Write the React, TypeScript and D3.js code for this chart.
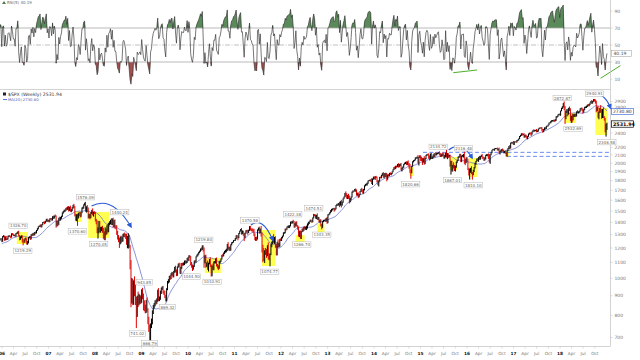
import React from 'react';
import * as d3 from 'd3';

// ---------- DATA ----------
// weekly closes, first week ending 2005-08-19 (warm-up for MA/RSI), last week ending 2019-01-04
const closes = [
  // 2005 (warm-up)
  1219,1212,1218,1241,1237,1215,1229,1196,1187,1179,1198,1220,1235,1248,1268,1265,1259,1267,1268,1248,
  // 2006
  1285,1288,1261,1283,1264,1267,1288,1290,1287,1282,1307,1302,1295,1295,1289,1311,1311,1325,1291,1267,1280,1288,1253,1252,1245,1270,1265,1236,1240,1278,1280,1267,1302,1296,1311,1299,1319,1314,1336,1349,1365,1368,1377,1364,1381,1401,1400,1396,1409,1427,1410,1418,
  // 2007
  1409,1431,1430,1423,1449,1438,1455,1451,1387,1402,1386,1437,1421,1443,1453,1485,1495,1505,1505,1523,1515,1536,1507,1533,1502,1503,1530,1552,1534,1459,1434,1453,1445,1479,1473,1453,1484,1525,1527,1557,1561,1500,1535,1509,1453,1458,1440,1481,1504,1467,1484,1478,
  // 2008
  1411,1401,1325,1331,1396,1331,1349,1353,1331,1294,1288,1330,1316,1370,1332,1390,1398,1414,1389,1426,1375,1400,1361,1360,1318,1278,1262,1239,1261,1257,1260,1296,1298,1292,1283,1242,1252,1255,1213,1099,899,940,877,968,930,873,800,896,876,880,887,873,
  // 2009
  931,890,850,832,826,869,827,770,735,683,756,769,816,843,857,870,866,877,929,882,887,919,940,946,921,918,896,879,940,979,987,1010,1005,1026,1029,1016,1042,1068,1044,1025,1071,1087,1080,1036,1069,1093,1091,1091,1106,1102,1102,1127,1115,
  // 2010
  1145,1136,1092,1074,1066,1075,1109,1105,1139,1150,1159,1167,1178,1194,1192,1217,1187,1111,1136,1087,1089,1065,1092,1117,1076,1022,1078,1065,1102,1102,1122,1079,1071,1065,1105,1110,1125,1149,1147,1166,1176,1183,1183,1225,1199,1199,1190,1224,1240,1243,1257,1258,
  // 2011
  1271,1293,1283,1276,1311,1329,1343,1320,1321,1304,1279,1314,1332,1328,1320,1337,1364,1340,1338,1333,1331,1300,1271,1272,1268,1340,1344,1316,1345,1292,1199,1179,1124,1177,1174,1154,1216,1136,1131,1155,1224,1238,1285,1253,1263,1216,1159,1244,1219,1219,1265,1258,
  // 2012
  1278,1289,1315,1316,1345,1343,1362,1366,1370,1371,1404,1397,1408,1398,1370,1379,1403,1369,1353,1295,1318,1278,1325,1343,1335,1362,1355,1357,1362,1386,1391,1406,1418,1411,1406,1438,1465,1460,1441,1461,1428,1433,1411,1414,1380,1359,1409,1416,1418,1413,1430,1402,
  // 2013
  1466,1472,1486,1503,1513,1518,1520,1516,1518,1551,1561,1556,1569,1553,1588,1555,1582,1614,1633,1667,1650,1631,1643,1626,1593,1606,1632,1680,1692,1691,1709,1691,1655,1664,1633,1655,1688,1710,1691,1690,1703,1745,1759,1762,1771,1798,1804,1806,1805,1775,1818,1841,
  // 2014
  1831,1842,1838,1790,1783,1797,1838,1836,1859,1878,1841,1866,1857,1865,1815,1864,1863,1881,1878,1878,1900,1924,1949,1936,1963,1961,1985,1967,1978,1978,1925,1931,1955,1988,2003,2008,1985,2010,1983,1968,1906,1887,1964,2018,2032,2039,2064,2068,2075,2002,2071,2089,
  // 2015
  2058,2045,2019,2051,1995,2055,2097,2110,2105,2071,2053,2108,2061,2067,2102,2081,2117,2108,2116,2123,2126,2107,2092,2094,2110,2101,2076,2077,2127,2080,2104,2078,2092,1971,1989,1921,1961,1958,1931,1951,2014,2033,2075,2079,2099,2023,2089,2090,2092,2012,2006,2061,2044,
  // 2016
  1922,1880,1907,1940,1880,1865,1918,1948,2000,2022,2050,2036,2073,2048,2081,2092,2065,2057,2047,2052,2099,2099,2096,2071,2037,2103,2130,2162,2175,2173,2183,2184,2184,2169,2180,2128,2139,2164,2168,2153,2133,2141,2126,2085,2164,2182,2213,2192,2260,2258,2263,2239,
  // 2017
  2277,2275,2271,2295,2297,2316,2351,2367,2383,2373,2378,2344,2363,2355,2329,2349,2384,2399,2390,2382,2416,2439,2432,2433,2438,2423,2425,2459,2473,2472,2476,2441,2426,2444,2477,2461,2500,2502,2519,2549,2553,2575,2581,2588,2582,2579,2602,2642,2652,2675,2684,2674,
  // 2018
  2743,2786,2810,2873,2762,2620,2732,2747,2691,2786,2752,2588,2641,2604,2656,2670,2670,2663,2728,2712,2721,2735,2779,2780,2754,2718,2760,2801,2802,2819,2840,2833,2850,2875,2902,2872,2904,2930,2914,2886,2767,2768,2658,2723,2781,2736,2633,2760,2633,2600,2417,2486,
  // 2019
  2531.94,
];

// weekly high above max(open, close), in tenths of a percent
const wickUp = [
  6,5,4,3,4,5,3,4,6,9,5,3,4,3,2,4,3,3,2,4,
  3,6,4,3,6,4,3,4,5,4,3,4,5,4,6,2,5,1,5,4,6,5,5,12,8,3,8,6,9,2,6,9,2,4,2,4,2,5,1,3,2,3,2,6,2,2,4,6,3,2,4,3,
  4,3,4,5,3,6,3,9,6,8,9,2,8,3,3,2,3,4,5,3,8,3,6,3,10,9,3,3,9,7,11,12,15,3,8,12,2,4,8,3,10,15,5,12,15,12,9,5,4,13,6,8,
  8,14,12,20,12,12,10,8,14,18,25,22,12,4,14,5,8,6,15,5,10,14,18,12,12,10,15,12,20,25,20,8,10,15,12,20,30,45,35,8,15,65,60,20,45,35,25,5,30,35,20,15,
  5,14,25,30,25,10,25,10,30,30,8,20,10,10,5,6,10,10,5,15,10,10,6,6,10,10,10,10,2,5,8,4,10,5,10,8,4,3,10,10,3,5,10,15,2,3,5,8,6,8,8,3,8,
  3,4,6,10,10,6,3,6,2,3,2,5,3,2,8,2,2,14,12,15,10,22,6,5,15,10,2,14,5,7,5,10,10,10,3,3,2,2,8,2,3,3,10,3,15,8,10,3,2,2,1,2,
  3,2,4,8,2,2,2,8,10,8,6,2,3,5,8,2,3,5,8,10,10,12,8,8,10,2,10,15,3,18,20,20,18,6,20,15,3,20,22,6,3,8,3,15,15,20,12,2,15,15,2,6,
  4,3,3,4,3,3,2,4,4,4,2,4,3,10,10,10,3,4,6,10,10,12,2,4,10,2,6,5,8,4,10,2,3,5,6,3,6,4,6,3,12,10,8,6,10,5,2,4,3,10,5,12,
  3,2,2,3,4,3,3,6,4,2,3,5,3,10,2,10,3,3,2,3,12,12,5,12,12,10,3,3,3,3,2,5,10,6,8,3,2,2,8,10,6,3,3,5,5,2,2,3,5,12,3,2,
  3,4,6,3,10,3,2,3,3,3,10,10,10,12,10,2,5,3,6,4,2,2,2,6,3,4,2,8,6,8,12,8,3,2,2,4,7,5,12,10,12,10,2,3,2,2,3,3,3,12,3,4,
  3,10,10,5,18,4,2,2,3,8,12,6,10,8,3,10,3,10,5,3,4,10,10,8,6,12,12,10,2,20,10,10,5,6,20,20,10,25,10,10,3,3,3,5,8,8,3,6,10,25,20,4,8,
  5,12,15,2,12,8,2,3,3,3,3,6,2,8,3,5,10,8,10,8,2,6,7,12,20,3,3,2,2,3,2,3,2,6,2,8,8,3,5,8,8,6,10,5,3,5,2,8,2,6,2,10,
  2,3,3,2,3,2,2,2,5,6,4,8,5,6,5,3,3,2,3,8,2,2,6,4,3,8,5,2,2,3,2,4,8,5,2,3,2,2,2,2,2,2,4,2,4,6,2,4,2,2,3,5,
  1,2,3,0,10,22,3,8,10,2,10,12,8,20,10,8,8,10,2,8,4,3,2,4,6,10,3,3,4,3,2,6,3,2,3,8,2,4,5,8,10,15,20,2,4,20,12,4,15,8,10,20,
  8,
];

// weekly low below min(open, close), in tenths of a percent
const wickDn = [
  5,8,6,2,5,9,3,14,6,11,4,3,3,3,2,6,5,4,3,4,
  2,4,6,4,5,4,3,5,4,8,3,4,5,4,5,3,4,3,3,8,5,6,10,26,6,5,7,9,10,5,5,6,3,4,5,4,4,5,3,4,5,3,4,5,4,3,5,8,3,2,5,3,
  6,5,5,6,5,6,4,4,22,15,12,5,6,3,9,4,6,5,9,3,5,4,8,5,6,9,3,6,5,5,14,16,51,8,12,8,4,3,6,4,5,4,10,12,14,12,10,3,6,5,12,4,
  2,12,10,41,15,8,12,15,12,20,22,24,15,10,10,10,10,10,8,8,12,10,10,12,15,12,15,31,10,18,10,10,10,10,12,15,35,45,10,40,66,45,30,28,35,25,74,10,40,30,25,20,
  12,10,30,15,20,18,12,15,15,24,20,20,15,12,12,15,15,10,10,12,12,10,10,8,10,15,10,11,10,10,10,12,15,10,10,12,10,8,8,12,10,5,10,8,10,10,12,10,8,10,8,5,3,
  6,4,10,8,20,12,4,8,5,3,7,6,3,4,10,5,10,41,15,20,15,12,22,4,6,11,10,12,15,8,8,5,10,14,6,10,6,5,10,5,8,8,12,4,8,15,10,8,4,5,3,3,
  5,5,8,15,3,4,3,15,12,10,22,5,5,8,15,5,5,5,8,6,12,8,10,15,12,4,6,6,4,5,26,66,12,25,20,20,10,15,15,50,5,15,8,12,18,12,10,10,12,12,8,5,
  5,5,3,6,4,8,3,4,10,12,3,6,5,5,10,10,6,4,10,8,10,8,9,4,10,4,10,12,15,10,8,3,3,5,8,3,3,5,6,8,5,6,6,12,10,12,3,5,5,6,5,10,
  6,4,3,4,8,6,3,15,8,2,4,6,4,12,3,15,4,4,2,3,10,10,12,8,15,8,3,3,4,5,3,5,6,6,8,3,3,3,6,15,15,3,3,6,8,3,3,4,10,6,12,4,
  8,12,5,5,18,25,3,5,6,3,4,8,10,10,12,3,10,8,8,10,3,3,3,6,3,8,4,10,8,6,4,12,3,5,3,6,4,3,7,17,10,35,3,3,4,4,3,5,6,3,15,3,
  15,10,20,6,7,3,3,4,4,8,10,4,5,5,4,3,4,5,6,3,3,5,8,8,4,10,10,10,3,5,15,8,4,6,53,10,10,10,12,15,3,5,3,5,4,5,5,5,10,10,15,3,10,
  2,12,36,10,4,29,3,12,5,10,3,5,10,4,3,3,5,5,10,8,3,5,6,10,15,22,3,3,2,5,8,3,3,5,5,3,10,3,10,3,5,4,5,1,2,4,3,8,3,4,3,3,
  3,4,4,3,5,2,2,3,4,5,3,5,6,6,5,8,2,3,6,12,3,3,5,6,3,6,5,3,3,4,4,5,10,6,3,5,2,3,3,2,3,4,6,4,5,5,3,8,5,4,3,3,
  5,3,5,5,3,33,5,10,15,4,5,3,15,19,6,6,10,8,5,4,5,4,3,5,6,8,3,3,5,5,5,5,6,5,3,5,3,3,5,8,18,10,11,20,5,10,8,3,3,6,4,29,
  17,
];

const firstWeek = [2005, 7, 19];
const legendClose = '2531.94';
const legendMA = '2730.80';
const legendRSI = '40.19';

const priceTicks = [700, 800, 900, 1000, 1100, 1200, 1300, 1400, 1500, 1600, 1700, 1800, 1900, 2000, 2100, 2200, 2400, 2800, 2900];
const rsiTicks = [10, 30, 50, 70, 90];
const yearLabels = ['06', '07', '08', '09', '10', '11', '12', '13', '14', '15', '16', '17', '18'];
const monthLabels = ['Apr', 'Jul', 'Oct'];

// annotation labels: date, value, vertical offset (px), horizontal offset (px)
const annotations = [
  { d: '2006-05-08', v: 1326.70, dy: -5.5, dx: 0 },
  { d: '2006-06-13', v: 1219.29, dy: 5.5, dx: 0 },
  { d: '2007-08-16', v: 1370.60, dy: 5.5, dx: 0 },
  { d: '2007-10-11', v: 1576.09, dy: -5.5, dx: 1 },
  { d: '2008-01-22', v: 1270.05, dy: 5.5, dx: 1 },
  { d: '2008-05-19', v: 1440.24, dy: -5.5, dx: 7 },
  { d: '2008-11-21', v: 741.02, dy: 5.5, dx: 1 },
  { d: '2009-01-06', v: 943.85, dy: -5.5, dx: 2 },
  { d: '2009-03-06', v: 666.79, dy: -2.5, dx: 0 },
  { d: '2009-07-08', v: 869.32, dy: 5.5, dx: 2 },
  { d: '2010-02-05', v: 1044.50, dy: 5.5, dx: -1 },
  { d: '2010-04-26', v: 1219.80, dy: -5.5, dx: 1 },
  { d: '2010-07-01', v: 1010.91, dy: 5.5, dx: 1 },
  { d: '2011-05-02', v: 1370.58, dy: -5.5, dx: 0 },
  { d: '2011-10-04', v: 1074.77, dy: 5.5, dx: 0 },
  { d: '2012-04-02', v: 1422.38, dy: -5.5, dx: 0 },
  { d: '2012-06-04', v: 1266.74, dy: 5.5, dx: 1 },
  { d: '2012-09-14', v: 1474.51, dy: -5.5, dx: 0 },
  { d: '2012-11-16', v: 1343.35, dy: 5.5, dx: 0 },
  { d: '2014-10-15', v: 1820.66, dy: 5.5, dx: 0 },
  { d: '2015-05-20', v: 2134.72, dy: -5.5, dx: 0 },
  { d: '2015-08-24', v: 1867.01, dy: 5.5, dx: 2 },
  { d: '2015-11-03', v: 2116.48, dy: -5.5, dx: 4 },
  { d: '2016-02-11', v: 1810.10, dy: 5.5, dx: 1 },
  { d: '2018-01-26', v: 2872.87, dy: -5, dx: -1 },
  { d: '2018-02-09', v: 2532.69, dy: 5, dx: 8 },
  { d: '2018-09-21', v: 2940.91, dy: -5.5, dx: 1 },
  { d: '2018-12-26', v: 2346.58, dy: 5.5, dx: 1 },
];

// yellow highlight boxes: from, to, low price, high price
const highlights = [
  { a: '2006-04-27', b: '2006-07-24', lo: 1229, hi: 1321 },
  { a: '2007-07-28', b: '2007-09-20', lo: 1403, hi: 1499 },
  { a: '2007-11-09', b: '2008-04-22', lo: 1275, hi: 1491 },
  { a: '2010-05-13', b: '2010-09-16', lo: 1032, hi: 1130 },
  { a: '2011-08-05', b: '2011-11-15', lo: 1077, hi: 1337 },
  { a: '2012-04-25', b: '2012-07-05', lo: 1240, hi: 1297 },
  { a: '2012-10-12', b: '2012-12-07', lo: 1311, hi: 1392 },
  { a: '2014-10-05', b: '2014-11-10', lo: 1851, hi: 1955 },
  { a: '2015-08-15', b: '2015-10-20', lo: 1919, hi: 2076 },
  { a: '2016-01-15', b: '2016-03-20', lo: 1840, hi: 2063 },
  { a: '2016-10-28', b: '2016-11-25', lo: 2076, hi: 2152 },
  { a: '2018-02-05', b: '2018-05-05', lo: 2548, hi: 2706 },
  { a: '2018-10-05', b: '2019-01-10', lo: 2370, hi: 2789 },
];

const levels = [
  { a: '2015-01-20', v: 2134.72 },
  { a: '2016-11-10', v: 2083.79 },
];

// blue curved arrows: start, control, end (date, price)
const arrows = [
  { s: ['2007-12-05', 1545], c: ['2008-05-15', 1650], e: ['2008-10-10', 1364] },
  { s: ['2011-05-10', 1378], c: ['2011-08-10', 1455], e: ['2011-10-28', 1259] },
  { s: ['2015-08-10', 2165], c: ['2015-11-20', 2300], e: ['2016-02-10', 2064] },
  { s: ['2018-09-15', 3021], c: ['2018-12-15', 3071], e: ['2019-02-01', 2789] },
];

// green RSI trend lines: (date, rsi) pairs
const rsiLines = [
  { a: ['2015-09-15', 17.4], b: ['2016-03-20', 20.6] },
  { a: ['2018-11-15', 10.8], b: ['2019-04-20', 25.8] },
];

// ---------- CHART ----------
const W = 640, H = 360;
const axisX = 610.5;
const priceTop = 91, priceBottom = 346;
const parse = d3.timeParse('%Y-%m-%d');
const font = 'DejaVu Sans, Verdana, sans-serif';

function wilderRSI(cl: number[], n: number) {
  const out: number[] = cl.map(() => NaN);
  let g = 0, l = 0;
  for (let i = 1; i <= n; i++) { const d = cl[i] - cl[i - 1]; if (d > 0) g += d; else l -= d; }
  g /= n; l /= n;
  out[n] = l === 0 ? 100 : 100 - 100 / (1 + g / l);
  for (let i = n + 1; i < cl.length; i++) {
    const d = cl[i] - cl[i - 1];
    g = (g * (n - 1) + Math.max(d, 0)) / n;
    l = (l * (n - 1) + Math.max(-d, 0)) / n;
    out[i] = l === 0 ? 100 : 100 - 100 / (1 + g / l);
  }
  return out;
}

export default function App() {
  const x = d3.scaleTime().domain([new Date(2006, 0, 1), new Date(2019, 0, 28)]).range([2, 610]);
  const y = d3.scaleLog().domain([665, 3089]).range([priceBottom, priceTop]);
  const yr = d3.scaleLinear().domain([0, 100]).range([87.5, 2.5]);

  const weeks = closes.map((c, i) => {
    const date = new Date(firstWeek[0], firstWeek[1], firstWeek[2] + 7 * i);
    const o = i > 0 ? closes[i - 1] : c;
    const hi = Math.max(o, c) * (1 + wickUp[i] / 1000);
    const lo = Math.min(o, c) * (1 - wickDn[i] / 1000);
    return { date, o, c, hi, lo, up: c >= o };
  });
  const ma = d3.range(closes.length).map(i => i >= 19 ? d3.mean(closes.slice(i - 19, i + 1)) as number : NaN);
  const rsi = wilderRSI(closes, 5);

  const barPath = (up: boolean) => weeks.slice(1).filter(w => w.up === up)
    .map(w => `M${x(w.date).toFixed(2)},${y(w.hi).toFixed(2)}V${y(w.lo).toFixed(2)}`).join('');

  const maLine = d3.line<number>().defined(v => !isNaN(v)).x((_, i) => x(weeks[i].date)).y(v => y(v))(ma) || '';
  const rsiPts = rsi.map((v, i) => ({ v, d: weeks[i].date })).filter(p => !isNaN(p.v));
  const rsiLine = d3.line<any>().x(p => x(p.d)).y(p => yr(p.v))(rsiPts) || '';
  const over = d3.area<any>().x(p => x(p.d)).y0(yr(70)).y1(p => yr(Math.max(p.v, 70)))(rsiPts) || '';
  const under = d3.area<any>().x(p => x(p.d)).y0(yr(30)).y1(p => yr(Math.min(p.v, 30)))(rsiPts) || '';

  const monthTicks: { d: Date; label: string; bold: boolean }[] = [];
  yearLabels.forEach((yl, k) => {
    const yy = 2006 + k;
    monthTicks.push({ d: new Date(yy, 0, 1), label: yl, bold: true });
    monthLabels.forEach((m, j) => monthTicks.push({ d: new Date(yy, 3 + 3 * j, 1), label: m, bold: false }));
  });

  const blue = '#2a5bd7';

  return (
    <svg width={W} height={H} style={{ position: 'absolute', left: 0, top: 0, background: '#fff' }} fontFamily={font}>
      <defs>
        <clipPath id="pclip"><rect x={0} y={priceTop} width={axisX} height={priceBottom - priceTop} /></clipPath>
        <clipPath id="rclip"><rect x={0} y={0} width={axisX} height={88} /></clipPath>
        <marker id="arr" viewBox="0 0 10 10" refX="7" refY="5" markerWidth="5" markerHeight="5" orient="auto">
          <path d="M0,0L10,5L0,10z" fill={blue} />
        </marker>
      </defs>
      <rect x={0} y={0} width={W} height={H} fill="#fff" />

      {/* ---- RSI panel ---- */}
      <g clipPath="url(#rclip)">
        <path d={over} fill="#5a8a5a" />
        <path d={under} fill="#a3514f" />
        <line x1={0} x2={axisX} y1={yr(70)} y2={yr(70)} stroke="#a8a8a8" strokeWidth={0.8} />
        <line x1={0} x2={axisX} y1={yr(30)} y2={yr(30)} stroke="#a8a8a8" strokeWidth={0.8} />
        <line x1={0} x2={axisX} y1={yr(50)} y2={yr(50)} stroke="#a8a8a8" strokeWidth={0.7} strokeDasharray="5,1.5,1,1.5" />
        <path d={rsiLine} fill="none" stroke="#2e2e2e" strokeWidth={0.65} />
      </g>
      {rsiLines.map((l, i) => (
        <line key={i} x1={x(parse(l.a[0] as string)!)} y1={yr(l.a[1] as number)} x2={x(parse(l.b[0] as string)!)} y2={yr(l.b[1] as number)} stroke="#4caf2a" strokeWidth={1} />
      ))}
      {rsiTicks.map(t => (
        <g key={t}>
          <line x1={axisX} x2={axisX + 2} y1={yr(t)} y2={yr(t)} stroke="#bbb" strokeWidth={0.5} />
          <text x={axisX + 4} y={yr(t) + 1.6} fontSize={4.5} fill="#777">{t}</text>
        </g>
      ))}
      <rect x={axisX + 1} y={yr(40.19) - 3} width={20} height={6} fill="#fff" stroke="#999" strokeWidth={0.5} />
      <text x={axisX + 3} y={yr(40.19) + 1.6} fontSize={4.5} fill="#444">{legendRSI}</text>
      <path d="M2,4L4,1L6,4z" fill="#4a7a4a" />
      <text x={7} y={4.2} fontSize={4} fill="#666">{`RSI(5) ${legendRSI}`}</text>

      {/* ---- separators / axes ---- */}
      <line x1={0} x2={axisX} y1={89.5} y2={89.5} stroke="#c8c8c8" strokeWidth={0.8} />
      <line x1={axisX} x2={axisX} y1={0} y2={priceBottom} stroke="#c8c8c8" strokeWidth={0.8} />
      <line x1={0} x2={axisX} y1={priceBottom + 0.5} y2={priceBottom + 0.5} stroke="#c8c8c8" strokeWidth={0.8} />

      {/* ---- price panel ---- */}
      <g clipPath="url(#pclip)">
        {highlights.map((h, i) => (
          <rect key={i} x={x(parse(h.a)!)} width={x(parse(h.b)!) - x(parse(h.a)!)} y={y(h.hi)} height={y(h.lo) - y(h.hi)} fill="#ffff52" />
        ))}
        {levels.map((l, i) => (
          <line key={i} x1={x(parse(l.a)!)} x2={axisX} y1={y(l.v)} y2={y(l.v)} stroke="#5b7ff0" strokeWidth={0.9} strokeDasharray="4,2.5" />
        ))}
        <path d={maLine} fill="none" stroke="#5862c8" strokeWidth={0.7} />
        <path d={barPath(false)} stroke="#e00000" strokeWidth={1} fill="none" />
        <path d={barPath(true)} stroke="#000" strokeWidth={1} fill="none" />
      </g>
      {arrows.map((a, i) => {
        const sx = x(parse(a.s[0] as string)!), sy = y(a.s[1] as number);
        const cx = x(parse(a.c[0] as string)!), cy = y(a.c[1] as number);
        const ex = x(parse(a.e[0] as string)!), ey = y(a.e[1] as number);
        return <path key={i} d={`M${sx},${sy}Q${cx},${cy} ${ex},${ey}`} fill="none" stroke={blue} strokeWidth={1.1} markerEnd="url(#arr)" />;
      })}
      {annotations.map((a, i) => {
        const txt = a.v.toFixed(2);
        const w = txt.length * 2.35 + 2;
        const cx = x(parse(a.d)!) + a.dx;
        const cy = y(a.v) + a.dy;
        return (
          <g key={i}>
            <rect x={cx - w / 2} y={cy - 2.7} width={w} height={5.4} fill="#fff" stroke="#b5b5b5" strokeWidth={0.5} />
            <text x={cx} y={cy + 1.5} fontSize={4} fill="#666" textAnchor="middle">{txt}</text>
          </g>
        );
      })}

      {/* price axis labels */}
      {priceTicks.map(t => (
        <g key={t}>
          <line x1={axisX} x2={axisX + 2} y1={y(t)} y2={y(t)} stroke="#bbb" strokeWidth={0.5} />
          <text x={axisX + 4} y={y(t) + 1.6} fontSize={4.5} fill="#777">{t}</text>
        </g>
      ))}
      <rect x={axisX + 1} y={y(2730.8) - 3} width={22} height={6} fill="#fff" stroke={blue} strokeWidth={0.6} />
      <text x={axisX + 2.5} y={y(2730.8) + 1.6} fontSize={4.5} fill="#334">{legendMA}</text>
      <rect x={axisX + 1} y={y(2531.94) - 3.2} width={22} height={6.4} fill="#fff" stroke="#000" strokeWidth={0.7} />
      <text x={axisX + 2.5} y={y(2531.94) + 1.7} fontSize={4.8} fontWeight="bold" fill="#000">{legendClose}</text>

      {/* legend */}
      <rect x={3} y={92.5} width={3} height={3} fill="#222" />
      <text x={8} y={95.6} fontSize={4.6} fill="#333">{`$SPX (Weekly) ${legendClose}`}</text>
      <line x1={3} x2={7} y1={99.5} y2={99.5} stroke={blue} strokeWidth={0.8} />
      <text x={8} y={101} fontSize={3.8} fill="#5060b0">{`MA(20) ${legendMA}`}</text>

      {/* time axis */}
      {monthTicks.map((m, i) => (
        <g key={i}>
          <line x1={x(m.d)} x2={x(m.d)} y1={priceBottom + 0.5} y2={priceBottom + 2.5} stroke="#bbb" strokeWidth={0.5} />
          <text x={x(m.d)} y={354.5} fontSize={4.3} textAnchor="middle" fill={m.bold ? '#111' : '#777'} fontWeight={m.bold ? 'bold' : 'normal'}>{m.label}</text>
        </g>
      ))}
    </svg>
  );
}
